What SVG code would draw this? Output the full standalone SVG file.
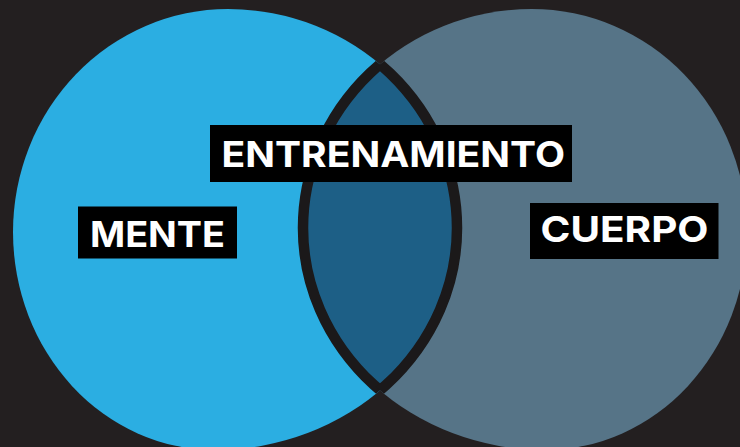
<svg xmlns="http://www.w3.org/2000/svg" width="740" height="447" viewBox="0 0 740 447">
  <style>
    .lbl-box { fill: #000000; }
    .lbl { fill: #ffffff; font-family: Inter, "Liberation Sans", sans-serif; font-weight: 700; font-size: 36px; }
    .ring { fill: none; stroke: #1b191a; stroke-width: 10.5; }
  </style>
  <defs>
    <path id="shapeLeft" d="M 13 232 A 215 223 0 0 1 228 9 A 229 219 0 0 1 457 228 A 242 222 0 0 1 215 450 A 202 218 0 0 1 13 232 Z"/>
    <path id="shapeRight" d="M 747 232 A 215 223 0 0 0 532 9 A 229 219 0 0 0 303 228 A 242 222 0 0 0 545 450 A 202 218 0 0 0 747 232 Z"/>
    <clipPath id="clipLeft"><use href="#shapeLeft"/></clipPath>
    <clipPath id="clipRight"><use href="#shapeRight"/></clipPath>
  </defs>
  <rect width="740" height="447" fill="#231f20"/>
  <g id="mente-circle">
    <use href="#shapeLeft" fill="#2baee2"/>
  </g>
  <g id="cuerpo-circle">
    <use href="#shapeRight" fill="#567487"/>
  </g>
  <g id="entrenamiento-lens">
    <g clip-path="url(#clipLeft)">
      <use href="#shapeRight" fill="#1d5f86"/>
    </g>
  </g>
  <g id="connectors">
    <g clip-path="url(#clipLeft)">
      <use href="#shapeRight" class="ring"/>
    </g>
    <g clip-path="url(#clipRight)">
      <use href="#shapeLeft" class="ring"/>
    </g>
  </g>
  <g id="label-entrenamiento">
    <rect class="lbl-box" x="210" y="125" width="362" height="57"/>
    <text class="lbl" x="221.5" y="166.7" textLength="343.5" lengthAdjust="spacingAndGlyphs">ENTRENAMIENTO</text>
  </g>
  <g id="label-mente">
    <rect class="lbl-box" x="78" y="206.5" width="159" height="52"/>
    <text class="lbl" x="90" y="246.7" textLength="135" lengthAdjust="spacingAndGlyphs">MENTE</text>
  </g>
  <g id="label-cuerpo">
    <rect class="lbl-box" x="530" y="203" width="188.5" height="56"/>
    <text class="lbl" x="540.5" y="241.7" textLength="168" lengthAdjust="spacingAndGlyphs">CUERPO</text>
  </g>
</svg>
